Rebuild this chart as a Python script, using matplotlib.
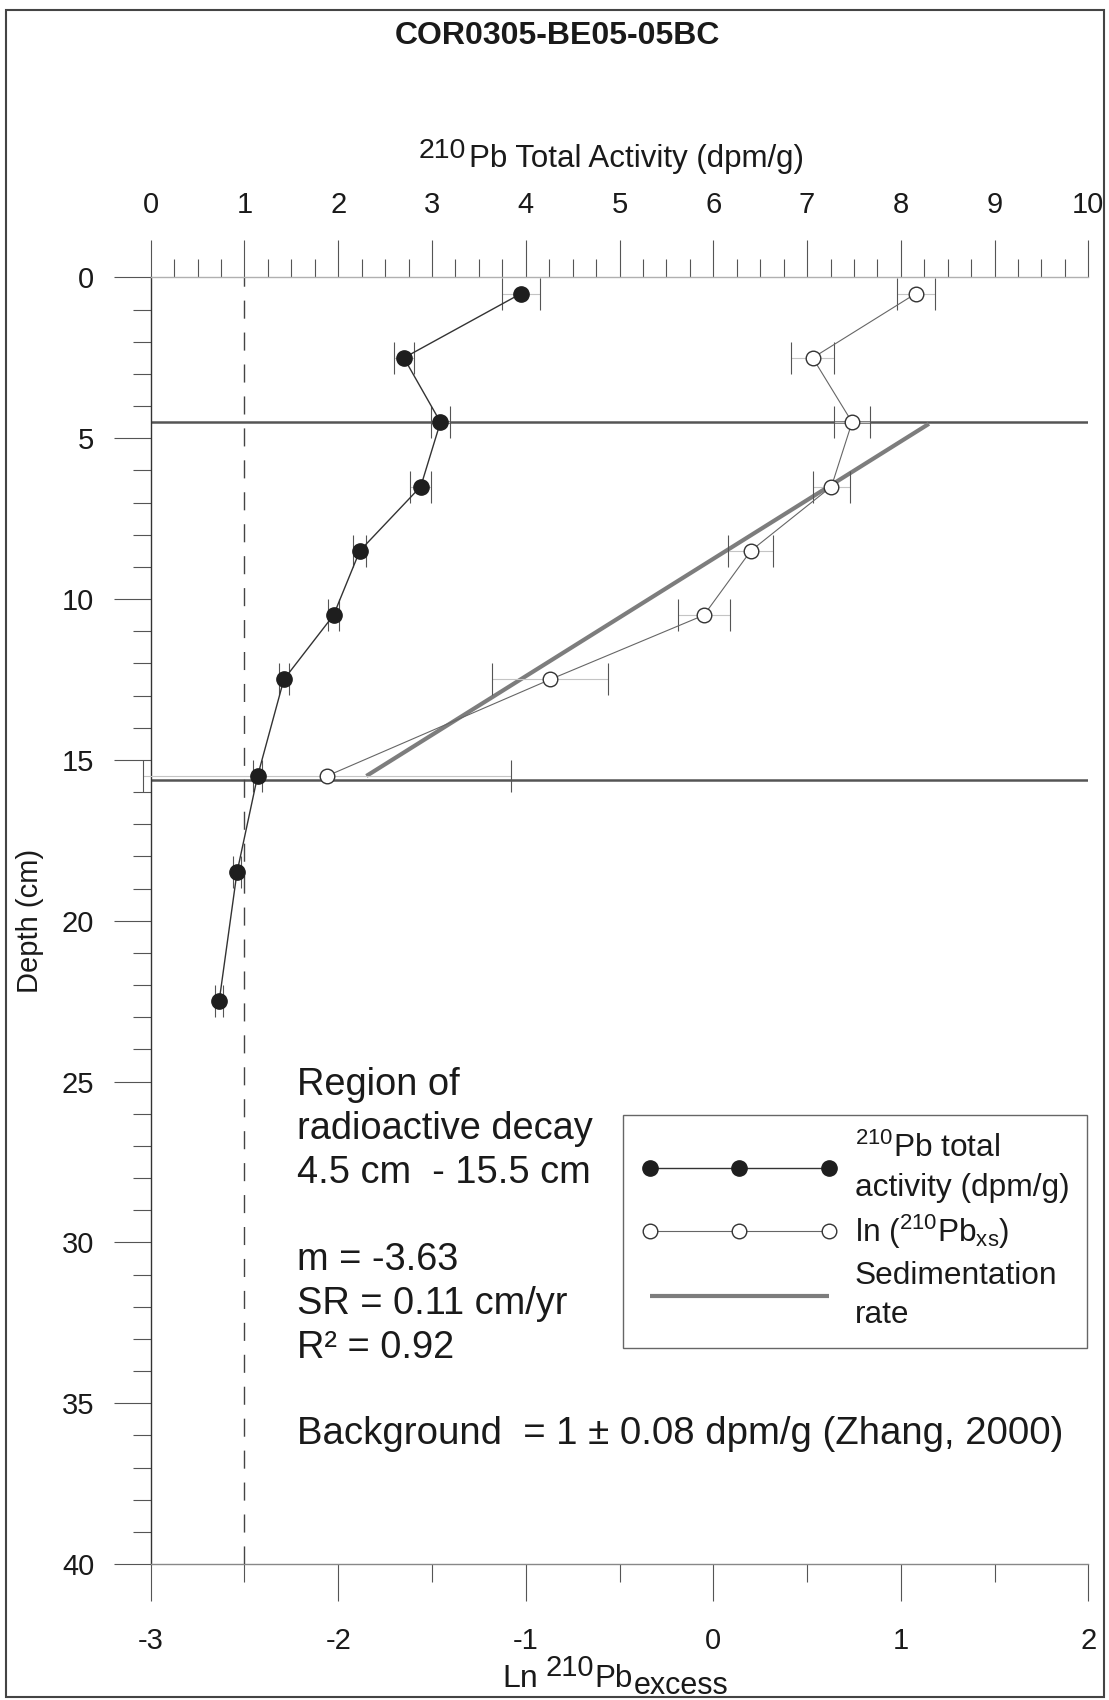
import matplotlib
matplotlib.use("Agg")
import matplotlib.pyplot as plt
from matplotlib.ticker import MultipleLocator
from matplotlib.patches import Rectangle

plt.rcParams['font.family'] = ['Liberation Sans', 'DejaVu Sans']
plt.rcParams['mathtext.fontset'] = 'custom'
plt.rcParams['mathtext.rm'] = 'Liberation Sans'
plt.rcParams['mathtext.it'] = 'Liberation Sans:italic'
plt.rcParams['mathtext.bf'] = 'Liberation Sans:bold'
plt.rcParams['axes.unicode_minus'] = False
plt.rcParams['lines.scale_dashes'] = False

# 210Pb total activity (top axis, dpm/g)
depth_total = [0.5, 2.5, 4.5, 6.5, 8.5, 10.5, 12.5, 15.5, 18.5, 22.5]
pb_total = [3.95, 2.70, 3.09, 2.88, 2.23, 1.95, 1.42, 1.14, 0.92, 0.73]
pb_total_err = [0.20, 0.11, 0.10, 0.11, 0.07, 0.06, 0.055, 0.045, 0.04, 0.045]

# ln of excess 210Pb (bottom axis)
depth_xs = [0.5, 2.5, 4.5, 6.5, 8.5, 10.5, 12.5, 15.5]
ln_pb_xs = [1.08, 0.53, 0.74, 0.63, 0.20, -0.05, -0.87, -2.06]
ln_pb_xs_err = [0.10, 0.115, 0.095, 0.10, 0.12, 0.14, 0.31, 0.98]

# fitted sedimentation line
sed_x = [-1.85, 1.15]
sed_depth = [15.5, 4.55]

decay_top = 4.5
decay_bottom = 15.62
background = 1.0

note = ("Region of\nradioactive decay\n4.5 cm  - 15.5 cm\n\n"
        "m = -3.63\nSR = 0.11 cm/yr\nR\u00b2 = 0.92")
note_bg = "Background  = 1 \u00b1 0.08 dpm/g (Zhang, 2000)"

fig = plt.figure(figsize=(11.09, 17.0), dpi=100)
ax = fig.add_axes([0.1359, 0.08, 0.8455, 0.7568])
ax_top = ax.twiny()

# region lines and fit
ax.axhline(decay_top, color='#555555', lw=1.8, zorder=2)
ax.axhline(decay_bottom, color='#555555', lw=1.8, zorder=2)
sed_line, = ax.plot(sed_x, sed_depth, color='#7d7d7d', lw=3.0, zorder=3,
                    solid_capstyle='butt', label='Sedimentation\nrate')

# ln excess series
eb = ax.errorbar(ln_pb_xs, depth_xs, xerr=ln_pb_xs_err, fmt='none',
                 ecolor='#555555', elinewidth=0.8, capsize=11.6, capthick=0.8,
                 zorder=4)
for c in eb[2]:
    c.set_color('#c4c4c4')
for art in list(eb[1]) + list(eb[2]):
    art.set_clip_on(False)
xs_line, = ax.plot(ln_pb_xs, depth_xs, color='#666666', lw=0.8, marker='o',
                   ms=10.5, mfc='white', mec='#333333', mew=1.0, zorder=5,
                   label=r'ln ($^{210}$Pb$_{\mathrm{xs}}$)')

# total activity series
ax_top.axvline(background, color='#444444', lw=1.0, linestyle=(0, (13, 10)),
               zorder=1)
eb2 = ax_top.errorbar(pb_total, depth_total, xerr=pb_total_err, fmt='none',
                      ecolor='#555555', elinewidth=0.8, capsize=11.6,
                      capthick=0.8, zorder=4)
for c in eb2[2]:
    c.set_color('#c4c4c4')
tot_line, = ax_top.plot(pb_total, depth_total, color='#333333', lw=1.0,
                        marker='o', ms=11, mfc='#1e1e1e', mec='#1e1e1e',
                        zorder=6, label='$^{210}$Pb total\nactivity (dpm/g)')

# axes limits and ticks
ax.set_xlim(-3, 2)
ax.set_ylim(40, 0)
ax_top.set_xlim(0, 10)

ax.xaxis.set_major_locator(MultipleLocator(1))
ax.xaxis.set_minor_locator(MultipleLocator(0.5))
ax.yaxis.set_major_locator(MultipleLocator(5))
ax.yaxis.set_minor_locator(MultipleLocator(1))
ax_top.xaxis.set_major_locator(MultipleLocator(1))
ax_top.xaxis.set_minor_locator(MultipleLocator(0.25))

tick_col = '#555555'
ax.tick_params(axis='both', which='major', length=26.6, width=0.8,
               direction='out', color=tick_col, labelsize=21, labelcolor='#1a1a1a')
ax.tick_params(axis='both', which='minor', length=13, width=0.8,
               direction='out', color=tick_col)
ax.tick_params(axis='x', which='major', pad=19)
ax.tick_params(axis='y', which='major', pad=14)
ax_top.tick_params(axis='x', which='major', length=26.6, width=0.8,
                   direction='out', color=tick_col, labelsize=21, pad=15.5,
                   labelcolor='#1a1a1a')
ax_top.tick_params(axis='x', which='minor', length=13, width=0.8,
                   direction='out', color=tick_col)

for s in ('top', 'right'):
    ax.spines[s].set_visible(False)
ax.spines['left'].set_color('#333333')
ax.spines['left'].set_linewidth(1.0)
ax.spines['bottom'].set_color('#888888')
ax.spines['bottom'].set_linewidth(1.0)
for s in ('left', 'right', 'bottom'):
    ax_top.spines[s].set_visible(False)
ax_top.spines['top'].set_color('#b0b0b0')
ax_top.spines['top'].set_linewidth(1.0)

txt_col = '#1a1a1a'

# y label
ax.set_ylabel('Depth (cm)', fontsize=21, color=txt_col)
ax.yaxis.set_label_coords(-0.1138, 0.5)

# bottom label: Ln 210Pb(excess), built from pieces so the superscript keeps its size
ybase_bot = -0.0958
ax.set_xlabel('Pb', fontsize=22.5, color=txt_col)
ax.xaxis.label.set_verticalalignment('baseline')
ax.xaxis.set_label_coords(0.4935, ybase_bot)
sup_bot = ax.annotate('210', xy=(0, ybase_bot),
                      xycoords=(ax.xaxis.label, ax.transAxes),
                      xytext=(-0.5, 8), textcoords='offset points',
                      ha='right', va='baseline', fontsize=21, color=txt_col,
                      annotation_clip=False)
ax.annotate('Ln', xy=(0, ybase_bot), xycoords=(sup_bot, ax.transAxes),
            xytext=(-5, 0), textcoords='offset points', ha='right',
            va='baseline', fontsize=23, color=txt_col, annotation_clip=False)
ax.annotate('excess', xy=(1, ybase_bot), xycoords=(ax.xaxis.label, ax.transAxes),
            xytext=(1, -4.5), textcoords='offset points', ha='left',
            va='baseline', fontsize=22, color=txt_col, annotation_clip=False)

# top label: 210Pb Total Activity (dpm/g)
ybase_top = 1.0855
ax_top.set_xlabel('Pb Total Activity (dpm/g)', fontsize=22.5, color=txt_col)
ax_top.xaxis.label.set_verticalalignment('baseline')
ax_top.xaxis.set_label_coords(0.5176, ybase_top)
ax_top.annotate('210', xy=(0, ybase_top),
                xycoords=(ax_top.xaxis.label, ax_top.transAxes),
                xytext=(-1.5, 7), textcoords='offset points',
                ha='right', va='baseline', fontsize=20.5, color=txt_col,
                annotation_clip=False)

fig.text(0.5023, 0.9788, 'COR0305-BE05-05BC', ha='center', va='center',
         fontsize=23, fontweight='bold', color=txt_col)

ax.text(0.156, 0.3863, note, transform=ax.transAxes, fontsize=27.4,
        ha='left', va='top', linespacing=1.28, color=txt_col, zorder=7)
ax.text(0.156, 0.0929, note_bg, transform=ax.transAxes, fontsize=27.6,
        ha='left', va='baseline', color=txt_col, zorder=7)

leg = ax.legend(handles=[tot_line, xs_line, sed_line], loc='upper left',
                bbox_to_anchor=(0.5034, 0.349), borderaxespad=0,
                fontsize=22.8, numpoints=3, handlelength=6.25,
                handletextpad=0.52, borderpad=0.55, labelspacing=0.3,
                frameon=True, fancybox=False, framealpha=1,
                edgecolor='#666666')
leg.get_frame().set_linewidth(1.0)
leg.set_zorder(8)
for t in leg.get_texts():
    t.set_linespacing(1.42)
    t.set_color(txt_col)

# outer frame round the figure
fig.patches.append(Rectangle((0.0054, 0.0018), 0.990, 0.9924, transform=fig.transFigure,
                             fill=False, edgecolor='#444444', lw=1.5))

fig.savefig('out.png', dpi=100)
